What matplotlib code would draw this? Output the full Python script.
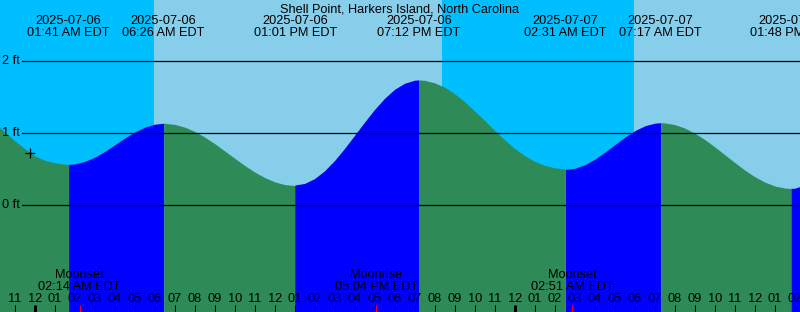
"""Tide chart for Shell Point, Harkers Island, NC (2025-07-06 .. 07-07), XTide look."""
import numpy as np
import pandas as pd
import matplotlib
matplotlib.use("Agg")
import matplotlib.pyplot as plt  # noqa: E402
from matplotlib.transforms import blended_transform_factory  # noqa: E402

plt.rcParams["font.family"] = ["Liberation Sans", "DejaVu Sans"]

TITLE = "Shell Point, Harkers Island, North Carolina"
BASE = pd.Timestamp("2025-07-06 00:00")

# high / low tide events (local time, ft)
TIDE_TIMES = ["2025-07-06 01:41", "2025-07-06 06:26", "2025-07-06 13:01",
              "2025-07-06 19:12", "2025-07-07 02:31", "2025-07-07 07:17",
              "2025-07-07 13:48"]
TIDE_HEIGHTS = [0.565, 1.135, 0.27, 1.73, 0.495, 1.143, 0.23]

# water level read every half hour, 22:00 Jul 5 .. 15:00 Jul 7 (ft)
LEVEL_START = "2025-07-05 22:00"
LEVEL_STEP_H = 0.5
LEVEL_HEIGHTS = [
    1.13, 1.01, 0.89, 0.78, 0.68, 0.62, 0.585, 0.567, 0.571, 0.606,
    0.666, 0.747, 0.839, 0.932, 1.016, 1.082, 1.123, 1.135, 1.119, 1.080,
    1.020, 0.941, 0.849, 0.748, 0.646, 0.546, 0.455, 0.379, 0.320, 0.283,
    0.270, 0.292, 0.359, 0.468, 0.610, 0.778, 0.960, 1.144, 1.319, 1.474,
    1.599, 1.684, 1.726, 1.725, 1.690, 1.630, 1.540, 1.430, 1.300, 1.170,
    1.030, 0.900, 0.780, 0.680, 0.600, 0.545, 0.510, 0.495, 0.511, 0.560,
    0.638, 0.735, 0.840, 0.943, 1.034, 1.101, 1.137, 1.140, 1.116, 1.067,
    0.996, 0.907, 0.805, 0.696, 0.587, 0.483, 0.391, 0.317, 0.263, 0.235,
    0.234, 0.279, 0.370,
]

SUNRISE = ["2025-07-06 05:57", "2025-07-07 05:57"]
SUNSET = ["2025-07-06 20:21"]

MOON_TIMES = ["2025-07-06 02:14", "2025-07-06 17:04", "2025-07-07 02:51"]
MOON_EVENTS = ["Moonset", "Moonrise", "Moonset"]

NOW_TIME = "2025-07-05 23:46"
NOW_HEIGHT = 0.72

FT_LEVELS = [0, 1, 2]

DAY = "#87CEEB"
NIGHT = "#00BFFF"
FALLING = "#2E8B57"
RISING = "#0000FF"

W, H = 800, 312
X0, X1 = -1.75, 38.25          # hours from BASE at the figure edges
Y0, Y1 = -107 / 72, 205 / 72   # ft at bottom / top edges
FS = 9.2


def hours(ts):
    return (pd.to_datetime(ts) - BASE) / pd.Timedelta(hours=1)


def main():
    tide_t = np.asarray(hours(TIDE_TIMES), dtype=float)
    tide_h = np.asarray(TIDE_HEIGHTS, dtype=float)
    lvl_t = hours(LEVEL_START) + LEVEL_STEP_H * np.arange(len(LEVEL_HEIGHTS))
    curve_t = np.concatenate([lvl_t, tide_t])
    curve_h = np.concatenate([LEVEL_HEIGHTS, tide_h])
    order = np.argsort(curve_t)
    curve_t, curve_h = curve_t[order], curve_h[order]

    fig = plt.figure(figsize=(W / 100, H / 100), dpi=100)
    ax = fig.add_axes([0, 0, 1, 1])
    ax.set_xlim(X0, X1)
    ax.set_ylim(Y0, Y1)
    ax.axis("off")
    xt = blended_transform_factory(ax.transData, ax.transAxes)
    yt = blended_transform_factory(ax.transAxes, ax.transData)

    # sky
    ax.axvspan(X0 - 5, X1 + 5, color=DAY, lw=0, zorder=0)
    rises = hours(SUNRISE)
    sets = hours(SUNSET)
    ax.axvspan(X0 - 5, rises[0], color=NIGHT, lw=0, zorder=0)
    ax.axvspan(sets[0], rises[1], color=NIGHT, lw=0, zorder=0)

    # water, blue while rising, green while falling
    bounds = np.concatenate([[curve_t[0]], tide_t, [curve_t[-1]]])
    for a, b in zip(bounds[:-1], bounds[1:]):
        m = (curve_t >= a) & (curve_t <= b)
        seg_t, seg_h = curve_t[m], curve_h[m]
        col = RISING if seg_h[-1] > seg_h[0] else FALLING
        ax.fill_between(seg_t, -3, seg_h, color=col, lw=0, zorder=1)

    # ft lines
    for lv in FT_LEVELS:
        ax.axhline(lv, xmin=22 / W, xmax=1, color="black", lw=0.9, zorder=2)
        ax.text(2 / W, lv, f"{lv} ft", transform=yt, ha="left", va="center",
                fontsize=FS, zorder=3)

    # now marker
    ax.plot([hours(NOW_TIME)], [NOW_HEIGHT], marker="+", ms=7, mew=0.9,
            color="black", zorder=3)

    # title and tide event labels
    ax.text(0.5, 1 - 12 / H, TITLE, transform=ax.transAxes, ha="center",
            va="baseline", fontsize=FS, zorder=3)
    for ts, t in zip(pd.to_datetime(TIDE_TIMES), tide_t):
        ax.text(t, 1 - 24 / H, ts.strftime("%Y-%m-%d"), transform=xt,
                ha="center", va="baseline", fontsize=FS, zorder=3)
        ax.text(t, 1 - 36 / H, ts.strftime("%I:%M %p EDT"), transform=xt,
                ha="center", va="baseline", fontsize=FS, zorder=3)

    # moon labels
    for ts, name in zip(pd.to_datetime(MOON_TIMES), MOON_EVENTS):
        t = hours(ts)
        ax.text(t, 34 / H, name, transform=xt, ha="center", va="baseline",
                fontsize=FS, zorder=3)
        ax.text(t, 22 / H, ts.strftime("%I:%M %p EDT"), transform=xt,
                ha="center", va="baseline", fontsize=FS, zorder=3)
        ax.plot([t, t], [0, 7.5 / H], transform=xt, color="red", lw=0.75,
                zorder=4, solid_capstyle="butt")

    # hour ticks
    for hr in range(int(np.ceil(X0)), int(np.floor(X1)) + 1):
        hod = hr % 24
        lab = f"{(hod % 12) or 12:02d}"
        ax.text(hr, 10.5 / H, lab, transform=xt, ha="center", va="baseline",
                fontsize=FS, zorder=3)
        lw = 2.2 if hod == 0 else 0.75
        ax.plot([hr, hr], [0, 7.5 / H], transform=xt, color="black", lw=lw,
                zorder=3, solid_capstyle="butt")

    fig.savefig("out.png", dpi=100)
    plt.close(fig)


if __name__ == "__main__":
    main()
